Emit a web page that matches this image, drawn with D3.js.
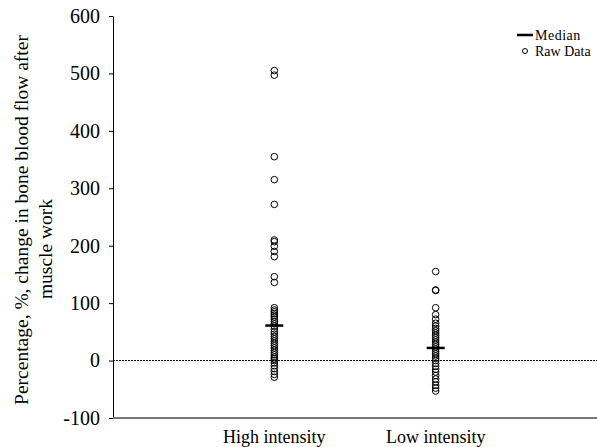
<!DOCTYPE html>
<html>
<head>
<meta charset="UTF-8">
<title>Bone blood flow</title>
<script src="https://cdn.jsdelivr.net/npm/d3@7"></script>
<style>
body { margin: 0; background: #fff; }
svg text { font-family: "Liberation Serif", serif !important; fill: #000; }
</style>
</head>
<body>
<script>
// categories
var groups = ["High intensity", "Low intensity"];
// raw values per group (% change)
var highValues = [505, 497, 355, 315, 272, 210, 207, 199, 190, 181, 146, 136,
  92, 88, 85, 82, 79, 76, 72, 68, 64, 60, 55, 50, 46, 42, 38, 34, 30, 26, 22,
  18, 14, 10, 6, 3, 0, -4, -9, -14, -19, -24, -29];
var lowValues = [155, 123, 122, 92, 80, 72, 65, 60, 56, 52, 48, 44, 40, 36,
  32, 28, 24, 20, 16, 12, 8, 4, 0, -5, -10, -15, -20, -26, -32, -37, -43, -48, -53];
var medians = [61, 22];
var yTicks = [-100, 0, 100, 200, 300, 400, 500, 600];

var W = 597, H = 447;
var plot = { left: 113, right: 597, top: 16, bottom: 418 };

var svg = d3.select("body").append("svg")
  .attr("width", W).attr("height", H);

var y = d3.scaleLinear().domain([-100, 600]).range([plot.bottom, plot.top]);
var x = d3.scalePoint().domain(groups).range([plot.left, plot.right]).padding(1);

// y axis (plain hyphen for negatives, like the original)
var yAxis = svg.append("g")
  .attr("transform", "translate(" + plot.left + ",0)")
  .call(d3.axisLeft(y).tickValues(yTicks).tickSize(4).tickSizeOuter(0).tickPadding(9)
    .tickFormat(function(d) { return String(d); }));
yAxis.attr("font-family", "Liberation Serif").attr("font-size", 20);
yAxis.select(".domain").attr("stroke", "#000");
yAxis.selectAll(".tick line").attr("stroke", "#000");
yAxis.selectAll(".tick text").attr("fill", "#000");

// x axis line
svg.append("line")
  .attr("x1", plot.left).attr("x2", plot.right)
  .attr("y1", plot.bottom).attr("y2", plot.bottom)
  .attr("stroke", "#777").attr("stroke-width", 2);

// zero reference line
svg.append("line")
  .attr("x1", plot.left).attr("x2", plot.right)
  .attr("y1", y(0)).attr("y2", y(0))
  .attr("stroke", "#000").attr("stroke-width", 1)
  .attr("stroke-dasharray", "2,1");

// category labels
svg.selectAll(".cat").data(groups).enter().append("text")
  .attr("class", "cat")
  .attr("x", function(d) { return x(d); })
  .attr("y", 443)
  .attr("text-anchor", "middle")
  .style("font-size", "18px")
  .text(function(d) { return d; });

// y title
svg.append("text")
  .attr("transform", "translate(28,220) rotate(-90)")
  .attr("text-anchor", "middle")
  .style("font-size", "19.5px")
  .text("Percentage, %, change in bone blood flow after");
svg.append("text")
  .attr("transform", "translate(52,249) rotate(-90)")
  .attr("text-anchor", "middle")
  .style("font-size", "19.5px")
  .text("muscle work");

// raw data
var series = [highValues, lowValues];
series.forEach(function(vals, i) {
  svg.append("g").selectAll("circle").data(vals).enter().append("circle")
    .attr("cx", x(groups[i]))
    .attr("cy", function(d) { return y(d); })
    .attr("r", 3.3)
    .attr("fill", "none")
    .attr("stroke", "#000")
    .attr("stroke-width", 1);
});

// medians
svg.selectAll(".med").data(medians).enter().append("line")
  .attr("x1", function(d, i) { return x(groups[i]) - 9; })
  .attr("x2", function(d, i) { return x(groups[i]) + 9; })
  .attr("y1", function(d) { return y(d); })
  .attr("y2", function(d) { return y(d); })
  .attr("stroke", "#000").attr("stroke-width", 2.5);

// legend
var lg = svg.append("g").attr("transform", "translate(517,35)");
lg.append("line").attr("x1", 0).attr("x2", 16).attr("y1", 0).attr("y2", 0)
  .attr("stroke", "#000").attr("stroke-width", 2.5);
lg.append("text").attr("x", 18).attr("y", 5).style("font-size", "14px")
  .style("letter-spacing", "0.5px").text("Median");
lg.append("circle").attr("cx", 8).attr("cy", 16).attr("r", 2.5)
  .attr("fill", "none").attr("stroke", "#000");
lg.append("text").attr("x", 18).attr("y", 21).style("font-size", "14px").text("Raw Data");
</script>
</body>
</html>
